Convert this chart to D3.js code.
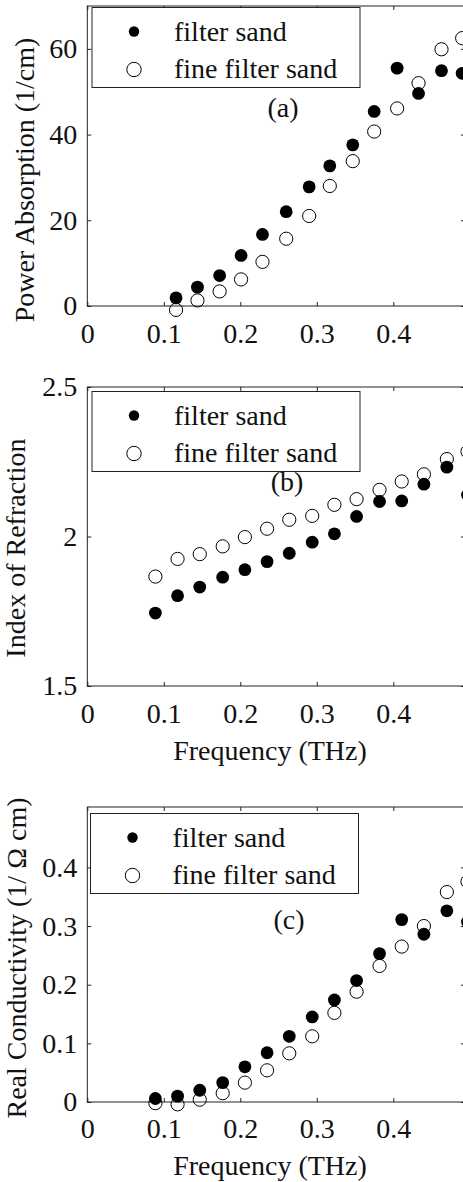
<!DOCTYPE html>
<html>
<head>
<meta charset="utf-8">
<script src="https://cdn.jsdelivr.net/npm/d3@7/dist/d3.min.js"></script>
<style>
  body { margin: 0; background: #fff; }
  svg text { font-family: "Liberation Serif", "Times New Roman", serif; fill: #111; }
</style>
</head>
<body>
<svg id="chart" width="463" height="1182"></svg>
<script>
/* Data */

// frequencies (THz) of the measured points in (b) and (c)
var freqs = [0.089, 0.118, 0.147, 0.177, 0.206, 0.235, 0.264, 0.294,
             0.323, 0.352, 0.382, 0.411, 0.440, 0.470, 0.497];

// (a) power absorption, 1/cm  (its points sit a little to the left)
var absorptionFreqs = [0.116, 0.144, 0.173, 0.201, 0.229, 0.260, 0.290,
                       0.317, 0.347, 0.375, 0.405, 0.433, 0.463, 0.490];
var absorptionFilter = [1.9, 4.4, 7.1, 11.8, 16.7, 22.0, 27.8, 32.7,
                        37.6, 45.4, 55.5, 49.6, 54.9, 54.3];
var absorptionFine = [-0.9, 1.3, 3.4, 6.2, 10.3, 15.7, 21.0, 28.0,
                      33.8, 40.7, 46.1, 52.0, 59.9, 62.5];

// (b) index of refraction
var refractionFilter = [1.744, 1.802, 1.831, 1.864, 1.889, 1.916, 1.944, 1.981,
                        2.009, 2.067, 2.117, 2.119, 2.175, 2.232, 2.139];
var refractionFine = [1.866, 1.925, 1.941, 1.967, 1.998, 2.026, 2.056, 2.069,
                      2.106, 2.125, 2.156, 2.184, 2.208, 2.259, 2.284];

// (c) real conductivity, 1/(ohm cm)
var conductivityFilter = [0.006, 0.010, 0.020, 0.033, 0.060, 0.084, 0.112, 0.145,
                          0.174, 0.207, 0.253, 0.311, 0.286, 0.326, 0.307];
var conductivityFine = [-0.002, -0.004, 0.004, 0.015, 0.033, 0.054, 0.083, 0.112,
                        0.152, 0.188, 0.232, 0.265, 0.300, 0.358, 0.376];

// tick labels
var xTicks = [0, 0.1, 0.2, 0.3, 0.4];
var xTickLabels = ["0", "0.1", "0.2", "0.3", "0.4"];
var absorptionTicks = [0, 20, 40, 60];
var absorptionTickLabels = ["0", "20", "40", "60"];
var refractionTicks = [1.5, 2, 2.5];
var refractionTickLabels = ["1.5", "2", "2.5"];
var conductivityTicks = [0, 0.1, 0.2, 0.3, 0.4];
var conductivityTickLabels = ["0", "0.1", "0.2", "0.3", "0.4"];

var seriesNames = ["filter sand", "fine filter sand"];

/* Drawing */

var svg = d3.select("#chart");
var FONT = 28;
// The plots run past the right edge of the page; the frame is cut there.
var left = 87.3, right = 465;

function zip(xs, ys) {
	return xs.map(function (x, i) { return {x: x, y: ys[i]}; });
}

function tickLabelFor(ticks, labels) {
	return function (d) { return labels[ticks.indexOf(d)]; };
}

function drawPanel(p) {
	var g = svg.append("g");

	var x = d3.scaleLinear().domain([0, 0.4]).range([left, 393.3]);
	var y = d3.scaleLinear().domain(p.yDomain).range([p.bottom, p.top]);

	// Frame of the plot.
	g.append("rect")
		.attr("x", left).attr("y", p.top)
		.attr("width", right - left).attr("height", p.bottom - p.top)
		.attr("fill", "none").attr("stroke", "#222").attr("stroke-width", 1);

	// Ticks point inward on all four sides.
	var bottomAxis = d3.axisBottom(x).tickValues(xTicks)
		.tickSizeInner(-4).tickSizeOuter(0).tickPadding(p.xPad)
		.tickFormat(tickLabelFor(xTicks, xTickLabels));
	var gb = g.append("g").attr("transform", "translate(0," + p.bottom + ")").call(bottomAxis);

	var topAxis = d3.axisTop(x).tickValues(xTicks).tickSizeInner(-4).tickSizeOuter(0).tickFormat("");
	var gt = g.append("g").attr("transform", "translate(0," + p.top + ")").call(topAxis);

	var leftAxis = d3.axisLeft(y).tickValues(p.yTicks)
		.tickSizeInner(-4).tickSizeOuter(0).tickPadding(10)
		.tickFormat(tickLabelFor(p.yTicks, p.yTickLabels));
	var gl = g.append("g").attr("transform", "translate(" + left + ",0)").call(leftAxis);

	var rightAxis = d3.axisRight(y).tickValues(p.yTicks).tickSizeInner(-4).tickSizeOuter(0).tickFormat("");
	var gr = g.append("g").attr("transform", "translate(" + right + ",0)").call(rightAxis);

	[gb, gt, gl, gr].forEach(function (ax) {
		ax.select(".domain").remove();
		ax.selectAll("line").attr("stroke", "#222");
		ax.selectAll("text")
			.style("font-family", '"Liberation Serif", "Times New Roman", serif')
			.style("font-size", FONT + "px").attr("fill", "#111");
	});

	// Data points: filled first, then open circles over them.
	g.append("g").selectAll("circle.filled")
		.data(zip(p.xs, p.filled)).enter().append("circle")
		.attr("class", "filled")
		.attr("cx", function (d) { return x(d.x); })
		.attr("cy", function (d) { return y(d.y); })
		.attr("r", 6.4)
		.attr("fill", "#000");

	g.append("g").selectAll("circle.open")
		.data(zip(p.xs, p.open)).enter().append("circle")
		.attr("class", "open")
		.attr("cx", function (d) { return x(d.x); })
		.attr("cy", function (d) { return y(d.y); })
		.attr("r", 6.6)
		.attr("fill", "none").attr("stroke", "#000").attr("stroke-width", 1);

	// Legend box.
	var lg = g.append("g");
	lg.append("rect")
		.attr("x", p.legend.x).attr("y", p.legend.y)
		.attr("width", 268).attr("height", 80)
		.attr("fill", "#fff").attr("stroke", "#222").attr("stroke-width", 1);
	lg.append("circle")
		.attr("cx", p.legend.x + 42).attr("cy", p.legend.y + 24)
		.attr("r", 5.2).attr("fill", "#000");
	lg.append("circle")
		.attr("cx", p.legend.x + 42).attr("cy", p.legend.y + 62)
		.attr("r", 7.2).attr("fill", "none").attr("stroke", "#000");
	lg.selectAll("text").data(seriesNames).enter().append("text")
		.attr("x", p.legend.x + 82)
		.attr("y", function (d, i) { return p.legend.y + 33 + i * 37; })
		.style("font-size", FONT + "px")
		.text(function (d) { return d; });

	// Panel tag.
	g.append("text")
		.attr("x", p.tag.x).attr("y", p.tag.y)
		.attr("text-anchor", "middle")
		.style("font-size", FONT + "px")
		.text(p.tag.text);

	// Y axis title, rotated.
	g.append("text")
		.attr("transform", "translate(" + p.yTitle.x + "," + p.yTitle.y + ") rotate(-90)")
		.attr("text-anchor", "middle")
		.style("font-size", FONT + "px")
		.text(p.yTitle.text);

	if (p.xTitleY) {
		g.append("text")
			.attr("x", 270).attr("y", p.xTitleY)
			.attr("text-anchor", "middle")
			.style("font-size", FONT + "px")
			.text("Frequency (THz)");
	}
}

drawPanel({
	top: 6, bottom: 306, yDomain: [0, 70], xPad: 17,
	yTicks: absorptionTicks, yTickLabels: absorptionTickLabels,
	xs: absorptionFreqs, filled: absorptionFilter, open: absorptionFine,
	legend: {x: 92, y: 7.5},
	tag: {x: 283, y: 117, text: "(a)"},
	yTitle: {x: 34, y: 180, text: "Power Absorption (1/cm)"},
	xTitleY: null
});

drawPanel({
	top: 387, bottom: 686, yDomain: [1.5, 2.5], xPad: 17,
	yTicks: refractionTicks, yTickLabels: refractionTickLabels,
	xs: freqs, filled: refractionFilter, open: refractionFine,
	legend: {x: 92, y: 391.5},
	tag: {x: 287, y: 491, text: "(b)"},
	yTitle: {x: 25, y: 548, text: "Index of Refraction"},
	xTitleY: 760
});

drawPanel({
	top: 807, bottom: 1102, yDomain: [0, 0.503], xPad: 16,
	yTicks: conductivityTicks, yTickLabels: conductivityTickLabels,
	xs: freqs, filled: conductivityFilter, open: conductivityFine,
	legend: {x: 90.5, y: 813.5},
	tag: {x: 289, y: 929, text: "(c)"},
	yTitle: {x: 26, y: 958, text: "Real Conductivity (1/ \u03A9 cm)"},
	xTitleY: 1175
});
</script>
</body>
</html>
